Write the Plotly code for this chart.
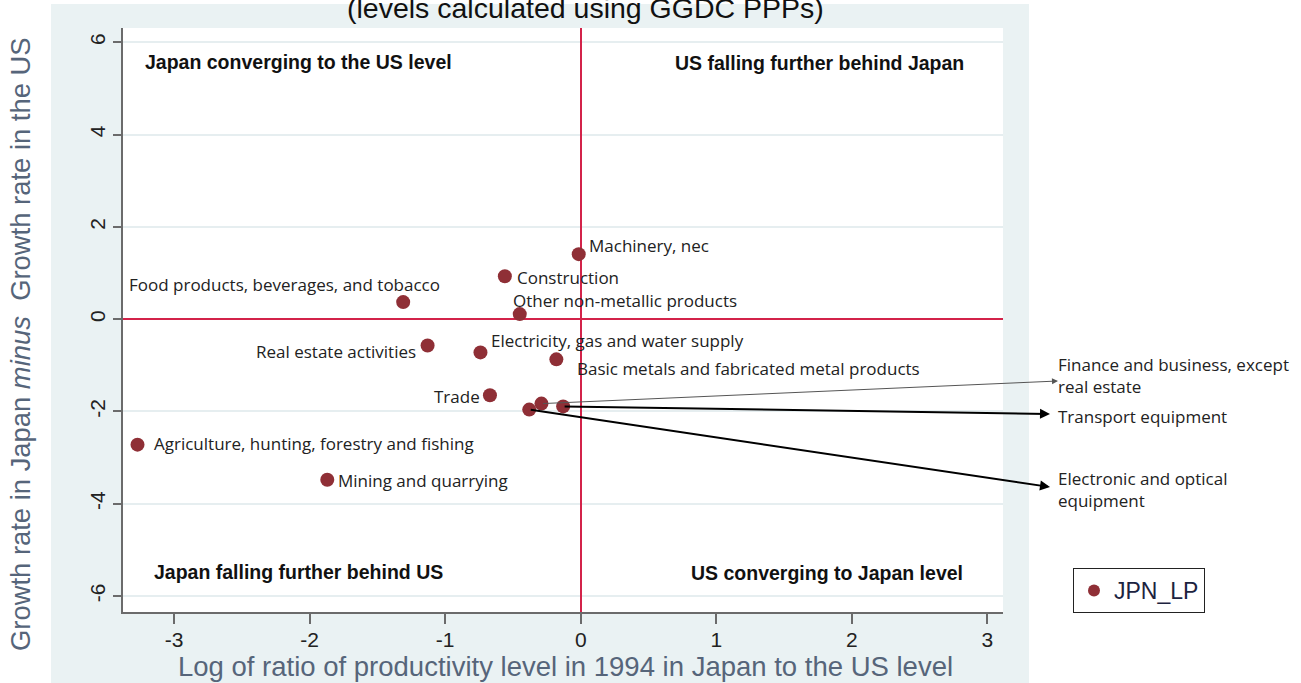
import plotly.graph_objects as go

# ---------------- data ----------------
sectors = [
    "Machinery, nec",
    "Construction",
    "Other non-metallic products",
    "Food products, beverages, and tobacco",
    "Real estate activities",
    "Electricity, gas and water supply",
    "Basic metals and fabricated metal products",
    "Trade",
    "Finance and business, except real estate",
    "Transport equipment",
    "Electronic and optical equipment",
    "Agriculture, hunting, forestry and fishing",
    "Mining and quarrying",
]
log_ratio_1994 = [-0.015, -0.56, -0.45, -1.31, -1.13, -0.74, -0.18, -0.67, -0.29, -0.13, -0.38, -3.27, -1.87]
growth_gap = [1.41, 0.93, 0.11, 0.37, -0.57, -0.72, -0.87, -1.65, -1.83, -1.89, -1.96, -2.72, -3.48]

x_ticks = [-3, -2, -1, 0, 1, 2, 3]
y_ticks = [-6, -4, -2, 0, 2, 4, 6]

quadrant_labels = [
    "Japan converging to the US level",
    "US falling further behind Japan",
    "Japan falling further behind US",
    "US converging to Japan level",
]

# ---------------- layout helpers ----------------
W, H = 1301, 683
ML, MR, MT, MB = 123, 298, 28, 71
X_RANGE = [-3.377, 3.115]
Y_RANGE = [-6.347, 6.312]
PW, PH = W - ML - MR, H - MT - MB


def px_to_paper_x(px):
    return (px - ML) / PW


def px_to_paper_y(py):
    return (H - MB - py) / PH


def px_to_data_x(px):
    return X_RANGE[0] + (px - ML) / PW * (X_RANGE[1] - X_RANGE[0])


def px_to_data_y(py):
    return Y_RANGE[0] + (H - MB - py) / PH * (Y_RANGE[1] - Y_RANGE[0])


MARKER_COLOR = "#8f2f36"
RED_LINE = "#d3234a"
BG = "#eaf2f3"
LABEL_FONT = dict(family="Open Sans, Noto Sans, sans-serif", size=17, color="#222222")

# inline label placement: sector -> (xanchor, xshift, yshift)
inline_place = {
    "Machinery, nec": ("left", 8, 9),
    "Construction": ("left", 10, -1),
    "Other non-metallic products": ("left", -9, 14),
    "Food products, beverages, and tobacco": ("right", 39, 18),
    "Real estate activities": ("right", -10, -6),
    "Electricity, gas and water supply": ("left", 9, 12),
    "Basic metals and fabricated metal products": ("left", 19, -9),
    "Trade": ("right", -8, -1),
    "Agriculture, hunting, forestry and fishing": ("left", 14, 1),
    "Mining and quarrying": ("left", 9, -1),
}

# arrowed labels: sector -> (display text, text centre y px, arrow head px (x, y), colour, width)
arrow_place = {
    "Finance and business, except real estate": (
        "Finance and business, except<br>real estate", 376, (1058, 381), "#555555", 1),
    "Transport equipment": ("Transport equipment", 416, (1050, 414), "#000000", 2),
    "Electronic and optical equipment": (
        "Electronic and optical<br>equipment", 490, (1050, 487), "#000000", 2),
}

fig = go.Figure()
fig.add_trace(go.Scatter(
    x=log_ratio_1994, y=growth_gap, mode="markers", name="JPN_LP",
    marker=dict(color=MARKER_COLOR, size=14, line=dict(width=0)),
    hovertext=sectors, hoverinfo="text",
))

annotations = []

for name, xv, yv in zip(sectors, log_ratio_1994, growth_gap):
    if name in inline_place:
        xa, xs, ys = inline_place[name]
        annotations.append(dict(
            x=xv, y=yv, xref="x", yref="y", text=name, showarrow=False,
            xanchor=xa, yanchor="middle", xshift=xs, yshift=ys, font=LABEL_FONT,
        ))
    else:
        txt, ty, (hx, hy), col, wid = arrow_place[name]
        annotations.append(dict(
            x=px_to_data_x(hx), y=px_to_data_y(hy), xref="x", yref="y",
            ax=xv, ay=yv, axref="x", ayref="y", text="", showarrow=True,
            arrowhead=2, arrowsize=1.2 if wid == 1 else 1, arrowwidth=wid,
            arrowcolor=col, standoff=0, startstandoff=0,
        ))
        annotations.append(dict(
            x=px_to_paper_x(1056), y=px_to_paper_y(ty), xref="paper", yref="paper",
            text=txt, showarrow=False, xanchor="left", yanchor="middle",
            align="left", font=LABEL_FONT,
        ))

# quadrant labels (x px, y px, anchor)
quad_pos = [(143, 62, "left"), (966, 63, "right"), (152, 572, "left"), (965, 573, "right")]
for txt, (qx, qy, xa) in zip(quadrant_labels, quad_pos):
    annotations.append(dict(
        x=px_to_paper_x(qx), y=px_to_paper_y(qy), xref="paper", yref="paper",
        text="<b>" + txt + "</b>", showarrow=False, xanchor=xa, yanchor="middle",
        font=dict(family="Liberation Sans, Arial, sans-serif", size=19.5, color="#111111"),
    ))

# title (partly cut off at the top in the reference)
annotations.append(dict(
    x=px_to_paper_x(585), y=px_to_paper_y(8), xref="paper", yref="paper",
    text="(levels calculated using GGDC PPPs)", showarrow=False,
    xanchor="center", yanchor="middle",
    font=dict(family="Liberation Sans, Arial, sans-serif", size=28.5, color="#111111"),
))

# axis titles
annotations.append(dict(
    x=px_to_paper_x(565), y=px_to_paper_y(666), xref="paper", yref="paper",
    text="Log of ratio of productivity level in 1994 in Japan to the US level",
    showarrow=False, xanchor="center", yanchor="middle",
    font=dict(family="Liberation Sans, Arial, sans-serif", size=27.5, color="#56657a"),
))
annotations.append(dict(
    x=px_to_paper_x(21), y=px_to_paper_y(344), xref="paper", yref="paper",
    text="Growth rate in Japan <i>minus</i>  Growth rate in the US",
    showarrow=False, xanchor="center", yanchor="middle", textangle=-90,
    font=dict(family="Liberation Sans, Arial, sans-serif", size=27.4, color="#56657a"),
))

shapes = [
    # grey-blue chart region
    dict(type="rect", xref="paper", yref="paper", layer="below",
         x0=px_to_paper_x(51), x1=px_to_paper_x(1029),
         y0=px_to_paper_y(690), y1=px_to_paper_y(4),
         fillcolor=BG, line=dict(width=0)),
    # white plot region
    dict(type="rect", xref="paper", yref="paper", layer="below",
         x0=0, x1=1, y0=0, y1=1, fillcolor="white", line=dict(width=0)),
]

TICK_FONT = dict(family="Liberation Sans, Arial, sans-serif", size=21, color="#222222")

fig.update_layout(
    width=W, height=H,
    margin=dict(l=ML, r=MR, t=MT, b=MB, pad=0),
    paper_bgcolor="white", plot_bgcolor="rgba(0,0,0,0)",
    showlegend=True,
    legend=dict(
        x=px_to_paper_x(1073), y=px_to_paper_y(568), xanchor="left", yanchor="top",
        bgcolor="white", bordercolor="#222222", borderwidth=1,
        font=dict(family="Liberation Sans, Arial, sans-serif", size=23, color="#1c2340"),
        itemsizing="constant", tracegroupgap=0,
    ),
    xaxis=dict(
        range=X_RANGE, tickvals=x_ticks, ticktext=[str(v) for v in x_ticks],
        showgrid=False, zeroline=True, zerolinecolor=RED_LINE, zerolinewidth=2,
        showline=True, linecolor="#6b6b6b", linewidth=1.5,
        ticks="outside", ticklen=10, tickwidth=1.5, tickcolor="#6b6b6b",
        tickfont=TICK_FONT, ticklabelstandoff=-2,
    ),
    yaxis=dict(
        range=Y_RANGE, tickvals=y_ticks, ticktext=[str(v) for v in y_ticks],
        showgrid=True, gridcolor="#e6eef0", gridwidth=1.5,
        zeroline=True, zerolinecolor=RED_LINE, zerolinewidth=2,
        showline=True, linecolor="#6b6b6b", linewidth=1.5,
        ticks="outside", ticklen=8, tickwidth=1.5, tickcolor="#6b6b6b",
        tickangle=-90, tickfont=TICK_FONT,
    ),
    annotations=annotations,
    shapes=shapes,
)

fig.write_html("out.html", config={"displayModeBar": False},
               post_script="document.body.style.margin='0px';")
